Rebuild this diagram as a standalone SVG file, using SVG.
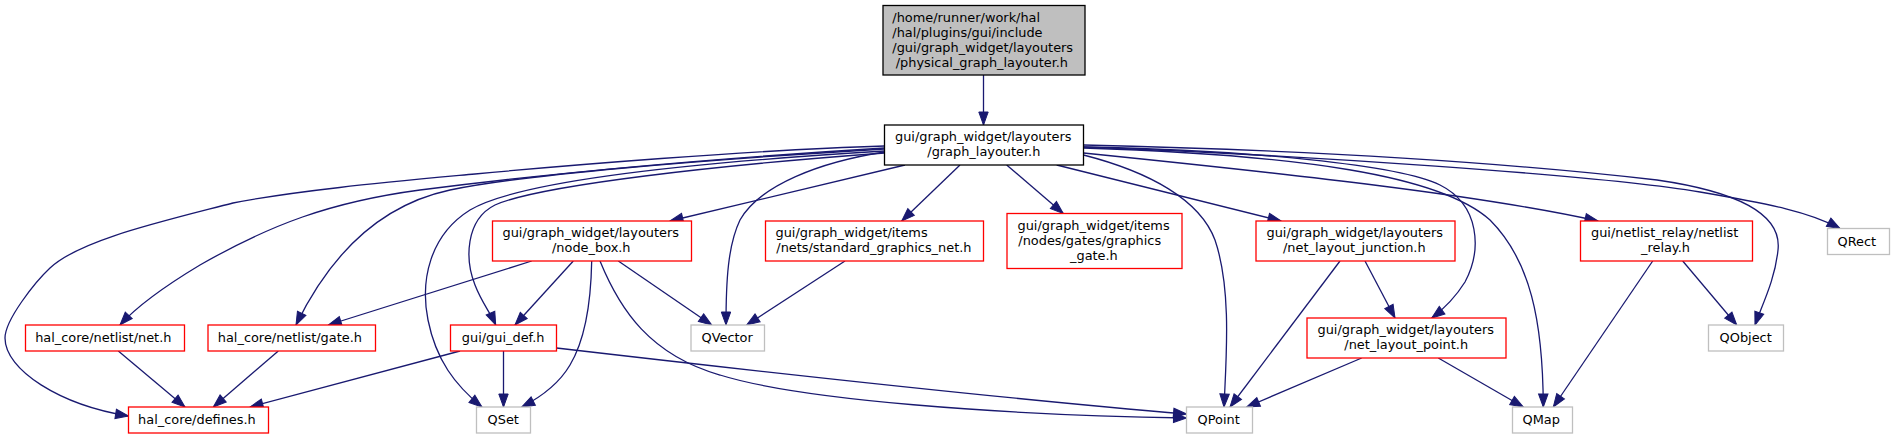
<svg xmlns="http://www.w3.org/2000/svg" width="1894" height="439" viewBox="0 0 1894 439">
<defs>
<style>
.n rect{fill:#ffffff;stroke-width:1.3}
.r rect{stroke:#ff0000}
.g rect{stroke:#bfbfbf}
.b rect{stroke:#000000}
.t rect{fill:#bfbfbf;stroke:#000000}
text{font-family:"DejaVu Sans","Noto Sans",sans-serif;font-size:12.9px;fill:#000000}
.e path{fill:none;stroke:#191970;stroke-width:1.3;marker-end:url(#ah)}
</style>
<marker id="ah" markerUnits="userSpaceOnUse" markerWidth="14" markerHeight="10" refX="13" refY="4.7" orient="auto" viewBox="0 0 14 10" style="overflow:visible">
<path d="M0,0 L13,4.7 L0,9.4 z" fill="#191970" stroke="#191970" stroke-width="1"/>
</marker>
</defs>
<rect x="0" y="0" width="1894" height="439" fill="#ffffff"/>
<g id="edges" class="e">
<path d="M983.5,75 L983.5,125"/>
<path d="M884.5,146 C750,150 560,166 475,174 C390,182 300,190 233,203 C160,222 80,240 50,268 C35,282 5,320 5,338 C5,370 60,405 128.5,416"/>
<path d="M884.5,148 C720,158 560,172 420,190 C330,202 270,225 200,265 C170,283 140,303 120,325"/>
<path d="M884.5,149 C700,160 520,175 450,190 C380,205 330,255 296,325"/>
<path d="M884.5,151 C700,162 520,180 470,210 C430,235 420,280 428,320 C436,360 455,385 482,407"/>
<path d="M884.5,153 C720,165 540,185 495,205 C465,220 465,260 475,285 C482,303 490,312 495.7,325"/>
<path d="M905,165 L670,221"/>
<path d="M884.5,152 C820,162 760,185 740,220 C728,245 726,280 726,325"/>
<path d="M960,165 L901.7,221"/>
<path d="M1006.7,165 L1063.3,213.5"/>
<path d="M1083.5,155 C1150,172 1200,200 1215,240 C1232,290 1226,360 1224,407"/>
<path d="M1056.7,165 L1281,221"/>
<path d="M1083.5,147 C1250,150 1400,165 1440,185 C1480,205 1482,250 1465,282 C1455,298 1445,308 1431.7,318"/>
<path d="M1083.5,148 C1300,155 1440,175 1490,220 C1530,260 1543,320 1543.3,407"/>
<path d="M1083.5,153 C1300,175 1480,195 1598,221"/>
<path d="M1083.5,145 C1300,150 1500,162 1657,180 C1740,192 1782,215 1778,250 C1775,280 1762,305 1755,325"/>
<path d="M1083.5,147 C1300,155 1600,175 1700,192 C1770,204 1810,212 1840,228.5"/>
<path d="M531.7,261 L328.3,325"/>
<path d="M573.3,261 L515,325"/>
<path d="M591.7,261 C591,300 585,340 570,365 C560,382 545,395 521.7,407"/>
<path d="M600,261 C620,310 650,355 720,375 C800,400 1000,415 1186.5,418"/>
<path d="M618.3,261 L711.7,325"/>
<path d="M845,261 L746.7,325"/>
<path d="M503.5,351 L503.5,407"/>
<path d="M460,351 L250,407"/>
<path d="M556.5,348 Q970,396 1186.5,414"/>
<path d="M118.3,351 L185,407"/>
<path d="M278.3,351 L213.3,407"/>
<path d="M1340,261 L1230,407"/>
<path d="M1365,261 L1395,318"/>
<path d="M1361.7,358 L1246.7,407"/>
<path d="M1438.3,358 L1523.3,407"/>
<path d="M1652.7,261 L1553.3,407"/>
<path d="M1682.7,261 L1736.7,325"/>
</g>
<g id="node_root" class="n t"><rect x="883" y="5.5" width="202" height="69.5"/>
<text x="892.3" y="21.5">/home/runner/work/hal</text><text x="892.3" y="36.7">/hal/plugins/gui/include</text><text x="892.3" y="51.9">/gui/graph_widget/layouters</text><text x="895.7" y="67.1">/physical_graph_layouter.h</text></g>
<g id="node_graph_layouter" class="n b"><rect x="884.5" y="125" width="199" height="40"/>
<text x="895" y="141">gui/graph_widget/layouters</text><text x="927.3" y="156.2">/graph_layouter.h</text></g>
<g id="node_node_box" class="n r"><rect x="492.5" y="221" width="199" height="40"/>
<text x="502.5" y="237">gui/graph_widget/layouters</text><text x="552" y="252.2">/node_box.h</text></g>
<g id="node_standard_graphics_net" class="n r"><rect x="765.5" y="221" width="218" height="40"/>
<text x="775.5" y="237">gui/graph_widget/items</text><text x="776.3" y="252.2">/nets/standard_graphics_net.h</text></g>
<g id="node_graphics_gate" class="n r"><rect x="1007" y="213.5" width="175" height="55"/>
<text x="1017.5" y="229.5">gui/graph_widget/items</text><text x="1018.3" y="244.7">/nodes/gates/graphics</text><text x="1070" y="259.9">_gate.h</text></g>
<g id="node_net_layout_junction" class="n r"><rect x="1256" y="221" width="199" height="40"/>
<text x="1266.5" y="237">gui/graph_widget/layouters</text><text x="1283" y="252.2">/net_layout_junction.h</text></g>
<g id="node_netlist_relay" class="n r"><rect x="1580.5" y="221" width="172" height="40"/>
<text x="1591" y="237">gui/netlist_relay/netlist</text><text x="1641" y="252.2">_relay.h</text></g>
<g id="node_QRect" class="n g"><rect x="1827.5" y="228.5" width="62" height="26"/>
<text x="1837.5" y="245.5">QRect</text></g>
<g id="node_net" class="n r"><rect x="25.5" y="325" width="159" height="26"/>
<text x="35.2" y="342">hal_core/netlist/net.h</text></g>
<g id="node_gate" class="n r"><rect x="208" y="325" width="167.5" height="26"/>
<text x="217.8" y="342">hal_core/netlist/gate.h</text></g>
<g id="node_gui_def" class="n r"><rect x="450.5" y="325" width="106" height="26"/>
<text x="461.8" y="342">gui/gui_def.h</text></g>
<g id="node_QVector" class="n g"><rect x="691" y="325" width="73.5" height="26"/>
<text x="701.5" y="342">QVector</text></g>
<g id="node_net_layout_point" class="n r"><rect x="1307" y="318" width="199" height="40"/>
<text x="1317.5" y="334">gui/graph_widget/layouters</text><text x="1344.3" y="349.2">/net_layout_point.h</text></g>
<g id="node_QObject" class="n g"><rect x="1708.5" y="325" width="75" height="26"/>
<text x="1719.6" y="342">QObject</text></g>
<g id="node_defines" class="n r"><rect x="128.5" y="407" width="140" height="26"/>
<text x="138.1" y="424">hal_core/defines.h</text></g>
<g id="node_QSet" class="n g"><rect x="476.5" y="407" width="54" height="26"/>
<text x="487.6" y="424">QSet</text></g>
<g id="node_QPoint" class="n g"><rect x="1186.5" y="407" width="66" height="26"/>
<text x="1197.6" y="424">QPoint</text></g>
<g id="node_QMap" class="n g"><rect x="1512.5" y="407" width="60" height="26"/>
<text x="1522.6" y="424">QMap</text></g>
</svg>
